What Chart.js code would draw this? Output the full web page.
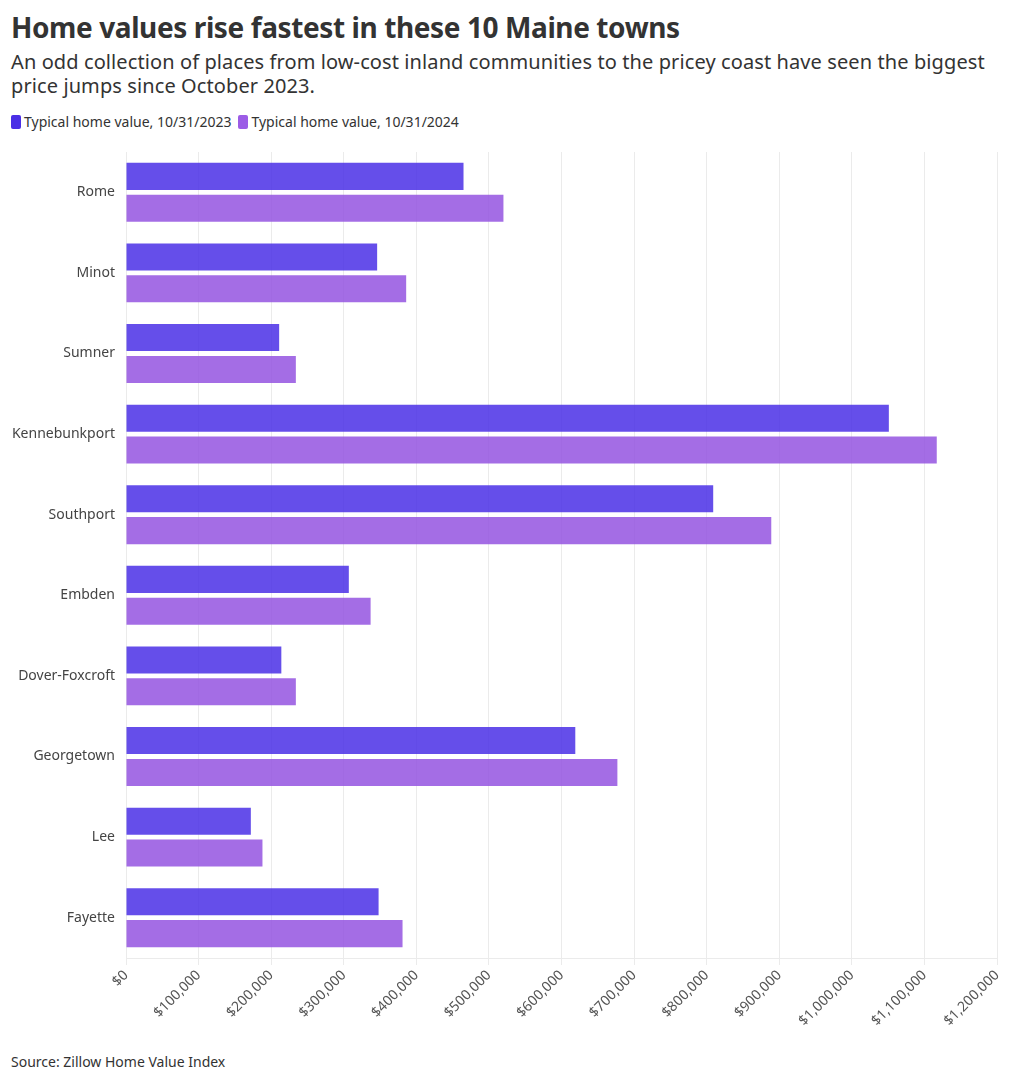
<!DOCTYPE html>
<html>
<head>
<meta charset="utf-8">
<script src="https://cdn.jsdelivr.net/npm/chart.js@4/dist/chart.umd.min.js"></script>
<style>
  html, body { margin: 0; padding: 0; background: #fff; }
  body { width: 1020px; height: 1083px; position: relative; font-family: "Noto Sans", "Open Sans", sans-serif; color: #333; overflow: hidden; }
  #title { position: absolute; left: 11px; top: 8px; font-size: 28px; font-weight: 700; color: #333; letter-spacing: -0.4px; }
  #subtitle { position: absolute; left: 11px; top: 50px; width: 1000px; font-size: 20px; line-height: 24px; color: #333; letter-spacing: 0.1px; }
  #legend { position: absolute; left: 11px; top: 112px; font-size: 14px; color: #333; display: flex; align-items: center; }
  .sw { display: inline-block; width: 10px; height: 14px; border-radius: 2px; margin-right: 3px; }
  .item { display: flex; align-items: center; margin-right: 7px; }
  #source { position: absolute; left: 11px; top: 1052px; font-size: 14px; color: #333; }
  #wrap { position: absolute; left: 0; top: 140px; width: 1020px; height: 900px; }
</style>
</head>
<body>
<div id="title">Home values rise fastest in these 10 Maine towns</div>
<div id="subtitle">An odd collection of places from low-cost inland communities to the pricey coast have seen the biggest price jumps since October 2023.</div>
<div id="legend">
  <span class="item"><span class="sw" style="background:#4a2fe6"></span>Typical home value, 10/31/2023</span>
  <span class="item"><span class="sw" style="background:#9c5ce6"></span>Typical home value, 10/31/2024</span>
</div>
<div id="wrap"><canvas id="c" width="1020" height="900"></canvas></div>
<div id="source">Source: Zillow Home Value Index</div>
<script>
const towns = ["Rome", "Minot", "Sumner", "Kennebunkport", "Southport", "Embden", "Dover-Foxcroft", "Georgetown", "Lee", "Fayette"];
const value2023 = [465000, 346000, 211000, 1051000, 809000, 307000, 214000, 619000, 172000, 348000];
const value2024 = [520000, 386000, 234000, 1117000, 889000, 337000, 234000, 677000, 188000, 381000];
const seriesLabels = ["Typical home value, 10/31/2023", "Typical home value, 10/31/2024"];
const xTicks = [0, 100000, 200000, 300000, 400000, 500000, 600000, 700000, 800000, 900000, 1000000, 1100000, 1200000];

const fmt = v => "$" + Math.round(v).toLocaleString("en-US");

new Chart(document.getElementById("c"), {
  type: "bar",
  data: {
    labels: towns,
    datasets: [
      { label: seriesLabels[0], data: value2023, backgroundColor: "rgba(74,47,230,0.85)", borderWidth: 0 },
      { label: seriesLabels[1], data: value2024, backgroundColor: "rgba(148,84,224,0.85)", borderWidth: 0 }
    ]
  },
  options: {
    indexAxis: "y",
    responsive: false,
    animation: false,
    categoryPercentage: 0.79,
    barPercentage: 0.85,
    layout: { padding: { top: 12, right: 23, left: 0, bottom: 0 } },
    plugins: { legend: { display: false }, tooltip: { enabled: false } },
    scales: {
      x: {
        min: 0, max: 1200000,
        afterBuildTicks: s => { s.ticks = xTicks.map(v => ({ value: v })); },
        afterFit: s => { s.height = 82; },
        grid: { color: "#ebebeb", tickLength: 7, drawTicks: true },
        border: { color: "#ebebeb" },
        ticks: {
          callback: v => fmt(v),
          minRotation: 45, maxRotation: 45,
          color: "#555",
          font: { family: "Noto Sans", size: 14 },
          padding: 2
        }
      },
      y: {
        afterFit: s => { s.width = 126; },
        grid: { display: false },
        border: { color: "#ebebeb" },
        ticks: {
          color: "#444",
          font: { family: "Noto Sans", size: 14 },
          padding: 3
        }
      }
    }
  }
});
</script>
</body>
</html>
